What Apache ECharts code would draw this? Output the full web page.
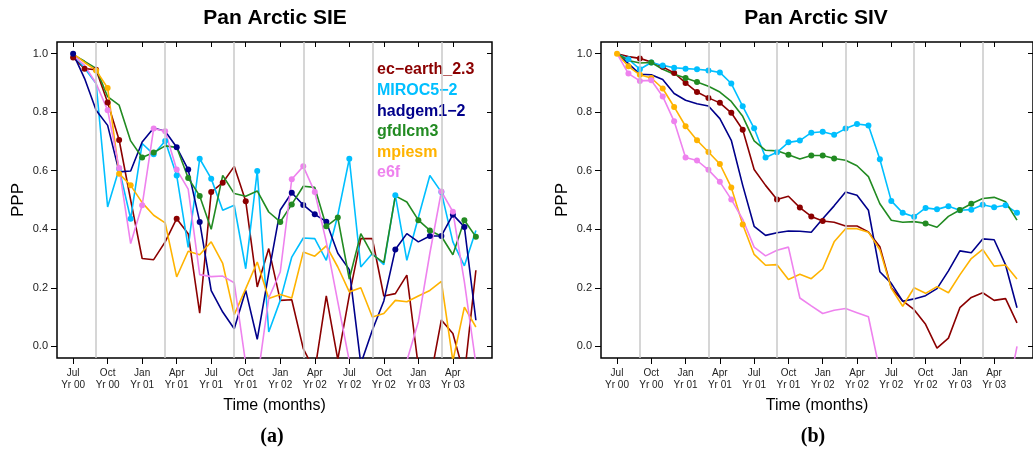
<!DOCTYPE html>
<html>
<head>
<meta charset="utf-8">
<script src="https://cdn.jsdelivr.net/npm/echarts@6/dist/echarts.min.js"></script>
<style>
  html, body { margin: 0; padding: 0; background: #fff; }
  #chart { width: 1033px; height: 456px; }
</style>
</head>
<body>
<div id="chart"></div>
<script>
// months since Jul Yr 00
const months = [0, 1, 2, 3, 4, 5, 6, 7, 8, 9, 10, 11, 12, 13, 14, 15, 16, 17, 18, 19, 20, 21, 22, 23, 24, 25, 26, 27, 28, 29, 30, 31, 32, 33, 34, 35]
const tickMonths = [0, 3, 6, 9, 12, 15, 18, 21, 24, 27, 30, 33]
const tickLabels = ['Jul\nYr 00', 'Oct\nYr 00', 'Jan\nYr 01', 'Apr\nYr 01', 'Jul\nYr 01', 'Oct\nYr 01',
  'Jan\nYr 02', 'Apr\nYr 02', 'Jul\nYr 02', 'Oct\nYr 02', 'Jan\nYr 03', 'Apr\nYr 03']
const yTicks = [0, 0.2, 0.4, 0.6, 0.8, 1.0]
const septemberLines = [2, 8, 14, 20, 26, 32]
const modelNames = ['ec−earth_2.3', 'MIROC5−2', 'hadgem1−2', 'gfdlcm3', 'mpiesm', 'e6f']
const modelColors = ['#8b0000', '#00bfff', '#00008b', '#228b22', '#ffb300', '#ee82ee']

// Pan Arctic SIE
const sieEcEarth = [0.987, 0.949, 0.945, 0.833, 0.705, 0.50, 0.30, 0.296, 0.357, 0.436, 0.385, 0.113, 0.527, 0.559, 0.615, 0.496, 0.203, 0.334, 0.157, 0.159, -0.008, -0.085, 0.172, -0.045, 0.174, 0.368, 0.368, 0.172, 0.18, 0.243, -0.07, -0.12, 0.09, 0.044, -0.1, 0.26]
const sieMiroc = [1.0, 0.95, 0.898, 0.476, 0.607, 0.436, 0.693, 0.656, 0.702, 0.584, 0.338, 0.641, 0.573, 0.465, 0.482, 0.265, 0.599, 0.049, 0.157, 0.305, 0.37, 0.368, 0.294, 0.448, 0.641, 0.271, 0.317, 0.279, 0.516, 0.294, 0.44, 0.584, 0.527, 0.357, 0.275, 0.396]
const sieHadgem = [1.0, 0.915, 0.807, 0.755, 0.596, 0.599, 0.698, 0.746, 0.735, 0.68, 0.604, 0.425, 0.19, 0.117, 0.06, 0.191, 0.024, 0.25, 0.466, 0.525, 0.483, 0.451, 0.426, 0.318, 0.262, -0.06, 0.055, 0.155, 0.331, 0.385, 0.357, 0.377, 0.377, 0.45, 0.408, 0.089]
const sieGfdl = [0.997, 0.974, 0.95, 0.853, 0.824, 0.702, 0.645, 0.662, 0.685, 0.68, 0.575, 0.514, 0.40, 0.584, 0.522, 0.513, 0.531, 0.459, 0.425, 0.485, 0.547, 0.543, 0.41, 0.44, 0.23, 0.385, 0.313, 0.286, 0.514, 0.493, 0.431, 0.396, 0.376, 0.313, 0.431, 0.374]
const sieMpi = [1.0, 0.97, 0.943, 0.883, 0.59, 0.55, 0.491, 0.448, 0.422, 0.237, 0.325, 0.313, 0.357, 0.283, 0.108, 0.197, 0.288, 0.163, 0.177, 0.165, 0.322, 0.308, 0.343, 0.271, 0.186, 0.2, 0.1, 0.112, 0.157, 0.152, 0.172, 0.191, 0.222, -0.05, 0.134, 0.066]
const sieE6f = [0.995, 0.96, 0.898, 0.807, 0.609, 0.351, 0.482, 0.744, 0.735, 0.604, 0.537, 0.245, 0.238, 0.24, 0.217, -0.06, -0.12, 0.165, 0.254, 0.571, 0.615, 0.527, 0.357, 0.152, -0.05, -0.2, -0.2, -0.2, -0.2, -0.05, 0.084, 0.318, 0.529, 0.46, 0.22, -0.06]
// months with a dot (significant)
const sieEcEarthDots = [0, 1, 2, 3, 4, 9, 12, 13, 15]
const sieMirocDots = [4, 5, 7, 8, 9, 11, 12, 16, 24, 28, 32]
const sieHadgemDots = [0, 9, 10, 11, 19, 20, 21, 22, 28, 31, 32, 33, 34]
const sieGfdlDots = [6, 7, 10, 11, 18, 19, 22, 23, 30, 31, 34, 35]
const sieMpiDots = [2, 3, 4, 5]
const sieE6fDots = [3, 4, 6, 7, 8, 9, 19, 20, 21, 32, 33]

// Pan Arctic SIV
const sivEcEarth = [1.0, 0.99, 0.984, 0.972, 0.955, 0.934, 0.9, 0.869, 0.849, 0.832, 0.798, 0.74, 0.604, 0.55, 0.502, 0.513, 0.474, 0.444, 0.428, 0.424, 0.411, 0.411, 0.391, 0.34, 0.2, 0.155, 0.125, 0.075, -0.006, 0.028, 0.132, 0.167, 0.183, 0.157, 0.163, 0.08]
const sivMiroc = [1.0, 0.981, 0.947, 0.97, 0.96, 0.952, 0.949, 0.947, 0.943, 0.936, 0.898, 0.82, 0.745, 0.645, 0.663, 0.697, 0.703, 0.73, 0.733, 0.723, 0.744, 0.76, 0.755, 0.639, 0.497, 0.456, 0.443, 0.473, 0.468, 0.479, 0.465, 0.467, 0.484, 0.475, 0.482, 0.456]
const sivHadgem = [1.0, 0.966, 0.93, 0.928, 0.912, 0.864, 0.841, 0.829, 0.821, 0.778, 0.704, 0.55, 0.41, 0.379, 0.388, 0.394, 0.393, 0.39, 0.436, 0.48, 0.527, 0.516, 0.465, 0.255, 0.215, 0.154, 0.162, 0.173, 0.197, 0.258, 0.326, 0.32, 0.367, 0.364, 0.278, 0.132]
const sivGfdl = [1.0, 0.977, 0.968, 0.97, 0.947, 0.93, 0.917, 0.903, 0.889, 0.869, 0.837, 0.786, 0.702, 0.67, 0.668, 0.655, 0.64, 0.652, 0.652, 0.642, 0.636, 0.617, 0.58, 0.487, 0.431, 0.424, 0.426, 0.42, 0.407, 0.444, 0.466, 0.487, 0.505, 0.509, 0.494, 0.431]
const sivMpi = [1.0, 0.957, 0.928, 0.917, 0.881, 0.818, 0.752, 0.704, 0.664, 0.623, 0.543, 0.416, 0.314, 0.277, 0.279, 0.228, 0.246, 0.231, 0.265, 0.357, 0.402, 0.402, 0.39, 0.33, 0.198, 0.137, 0.2, 0.181, 0.204, 0.183, 0.244, 0.3, 0.331, 0.274, 0.278, 0.23]
const sivE6f = [1.0, 0.932, 0.907, 0.909, 0.854, 0.769, 0.645, 0.635, 0.603, 0.562, 0.502, 0.434, 0.339, 0.309, 0.328, 0.339, 0.165, 0.138, 0.112, 0.123, 0.129, 0.115, 0.101, -0.085, -0.3, -0.3, -0.3, -0.3, -0.3, -0.3, -0.3, -0.3, -0.3, -0.3, -0.2, 0.0]
const sivEcEarthDots = [2, 4, 5, 6, 7, 8, 9, 10, 11, 14, 16, 17, 18]
const sivMirocDots = [1, 2, 3, 4, 5, 6, 7, 8, 9, 10, 11, 12, 13, 14, 15, 16, 17, 18, 19, 20, 21, 22, 23, 24, 25, 26, 27, 28, 29, 30, 31, 32, 33, 34, 35]
const sivHadgemDots = []
const sivGfdlDots = [3, 6, 7, 15, 17, 18, 19, 27, 30, 31]
const sivMpiDots = [0, 1, 2, 3, 4, 5, 6, 7, 8, 9, 10, 11]
const sivE6fDots = [1, 2, 3, 4, 5, 6, 7, 8, 9, 10]

const sieValues = [sieEcEarth, sieMiroc, sieHadgem, sieGfdl, sieMpi, sieE6f]
const sieDots = [sieEcEarthDots, sieMirocDots, sieHadgemDots, sieGfdlDots, sieMpiDots, sieE6fDots]
const sivValues = [sivEcEarth, sivMiroc, sivHadgem, sivGfdl, sivMpi, sivE6f]
const sivDots = [sivEcEarthDots, sivMirocDots, sivHadgemDots, sivGfdlDots, sivMpiDots, sivE6fDots]

const FONT = "'Liberation Sans', Arial, Helvetica, sans-serif"
const chart = echarts.init(document.getElementById('chart'), null, { renderer: 'canvas' })

// right panel runs a little past the picture edge, as in the original
const grids = [
  { left: 57, width: 435, top: 42, bottom: 98 },
  { left: 601, width: 434, top: 42, bottom: 98 }
]

const xAxes = []
const yAxes = []
grids.forEach((g, i) => {
  // bottom axis with labels, ticks outside
  xAxes.push({
    type: 'value', gridIndex: i, position: 'bottom', min: -1.4, max: 36.4,
    axisLine: { show: false, onZero: false },
    axisTick: { show: true, length: 6, customValues: tickMonths, lineStyle: { color: '#000', width: 1 } },
    axisLabel: {
      customValues: tickMonths, fontSize: 10, lineHeight: 12, color: '#222', margin: 9, fontFamily: FONT,
      formatter: v => tickLabels[tickMonths.indexOf(v)]
    },
    splitLine: { show: false },
    name: 'Time (months)', nameLocation: 'middle', nameGap: 40,
    nameTextStyle: { fontSize: 16, color: '#000', fontFamily: FONT }
  })
  // top axis, ticks inside
  xAxes.push({
    type: 'value', gridIndex: i, position: 'top', min: -1.4, max: 36.4,
    axisLine: { show: false, onZero: false },
    axisTick: { show: true, inside: true, length: 5, customValues: tickMonths, lineStyle: { color: '#000', width: 1 } },
    axisLabel: { show: false },
    splitLine: { show: false }
  })
  yAxes.push({
    type: 'value', gridIndex: i, position: 'left', min: -0.04, max: 1.04,
    axisLine: { show: false, onZero: false },
    axisTick: { show: true, length: 6, customValues: yTicks, lineStyle: { color: '#000', width: 1 } },
    axisLabel: {
      customValues: yTicks, fontSize: 11, color: '#222', margin: 9, fontFamily: FONT,
      formatter: v => v.toFixed(1)
    },
    splitLine: { show: false },
    name: 'PPP', nameLocation: 'middle', nameGap: 30, nameRotate: 90,
    nameTextStyle: { fontSize: 17, color: '#000', fontFamily: FONT }
  })
  yAxes.push({
    type: 'value', gridIndex: i, position: 'right', min: -0.04, max: 1.04,
    axisLine: { show: false, onZero: false },
    axisTick: { show: true, inside: true, length: 5, customValues: yTicks, lineStyle: { color: '#000', width: 1 } },
    axisLabel: { show: false },
    splitLine: { show: false }
  })
})

const series = []
const panels = [[sieValues, sieDots], [sivValues, sivDots]]
panels.forEach(([values, dots], g) => {
  // grey lines every September
  series.push({
    type: 'line', xAxisIndex: g * 2, yAxisIndex: g * 2, data: [], silent: true,
    markLine: {
      silent: true, symbol: ['none', 'none'], label: { show: false },
      lineStyle: { color: '#c8c8c8', width: 1.5, type: 'solid' },
      data: septemberLines.map(m => ({ xAxis: m }))
    }
  })
  values.forEach((vals, k) => {
    series.push({
      name: modelNames[k], type: 'line', xAxisIndex: g * 2, yAxisIndex: g * 2,
      clip: true, showSymbol: true, showAllSymbol: true, symbolSize: 6,
      lineStyle: { color: modelColors[k], width: 1.6 },
      itemStyle: { color: modelColors[k] },
      data: vals.map((v, i) => ({ value: [months[i], v], symbol: dots[k].includes(i) ? 'circle' : 'none' }))
    })
  })
})

const textEl = (text, x, y, font, fill, align) => ({
  type: 'text', x, y, silent: true,
  style: { text, font, fill, align: align || 'center', verticalAlign: 'middle', textAlign: align || 'center', textVerticalAlign: 'middle' }
})

const graphics = [
  textEl('Pan Arctic SIE', 275, 18, 'bold 21px ' + FONT, '#000'),
  textEl('Pan Arctic SIV', 816, 18, 'bold 21px ' + FONT, '#000'),
  textEl('(a)', 272, 437, "bold 20px 'Liberation Serif', 'DejaVu Serif', serif", '#000'),
  textEl('(b)', 813, 437, "bold 20px 'Liberation Serif', 'DejaVu Serif', serif", '#000')
]
modelNames.forEach((n, k) => {
  graphics.push(textEl(n, 377, 70 + 20.6 * k, 'bold 16px ' + FONT, modelColors[k], 'left'))
})

chart.setOption({
  animation: false,
  textStyle: { fontFamily: FONT },
  grid: grids.map(g => Object.assign({ show: true, borderColor: '#000', borderWidth: 1.5, backgroundColor: 'transparent' }, g)),
  xAxis: xAxes,
  yAxis: yAxes,
  series,
  graphic: graphics
})
</script>
</body>
</html>
